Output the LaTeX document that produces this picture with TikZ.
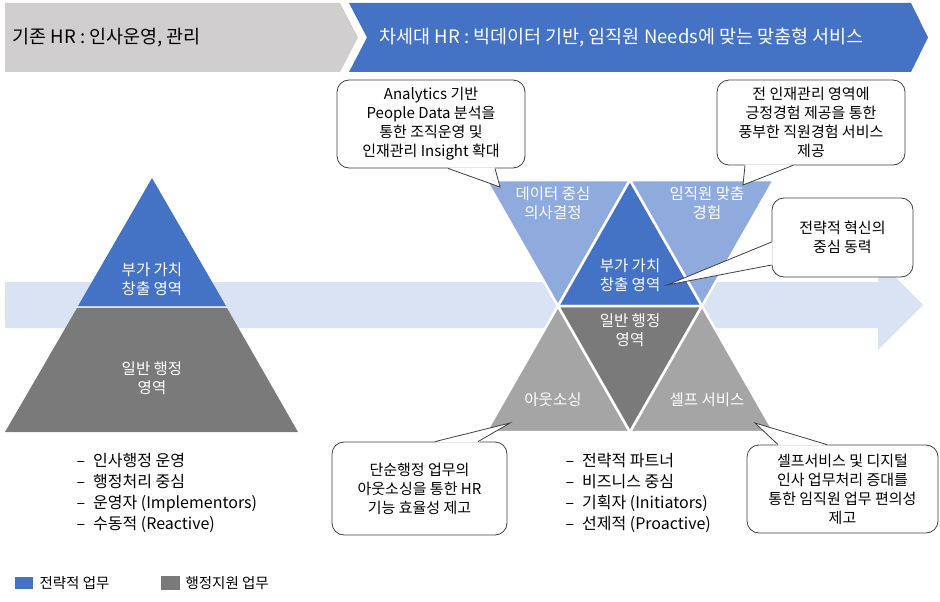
\documentclass[tikz,border=0pt]{standalone}
\usepackage{fontspec}
\setmainfont{Noto Sans CJK KR}
\usetikzlibrary{calc}
\definecolor{hrblue}{HTML}{4472C4}
\definecolor{hrlight}{HTML}{8FAADC}
\definecolor{hrband}{HTML}{DAE3F3}
\definecolor{hrgray}{HTML}{7A7A7A}
\definecolor{hrsoft}{HTML}{A5A5A5}
\definecolor{hrbanner}{HTML}{D0CECE}
\definecolor{hrline}{HTML}{404040}
\tikzset{
  callout/.style={draw=hrline, line width=0.8pt, fill=white, rounded corners=12pt,
    inner sep=0pt, align=center, font=\fontsize{15}{19}\selectfont},
  tail/.style={draw=hrline, line width=0.8pt},
  tri/.style={draw=white, line width=2.5pt, line join=miter},
  trilabel/.style={white, align=center, font=\fontsize{15.5}{19}\selectfont}
}

\begin{document}
\begin{tikzpicture}[x=1pt, y=-1pt, font=\fontsize{13}{18}\selectfont]
  \useasboundingbox (0,0) rectangle (940,602);
  % light arrow behind the triangles
  \fill[hrband] (5,282) -- (878,282) -- (878,260) -- (923,305) -- (878,350)
    -- (878,328) -- (5,328) -- cycle;
  % banner
  \fill[hrbanner] (5,3) -- (340,3) -- (358,37.5) -- (340,72) -- (5,72) -- cycle;
  \fill[hrblue] (349,3) -- (911,3) -- (928,37.5) -- (911,72) -- (349,72)
    -- (367,37.5) -- cycle;
  \node[anchor=west, font=\fontsize{18.5}{22}\selectfont] (oldhr) at (9,37.5)
    {기존 HR : 인사운영, 관리};
  \node[anchor=west, white, font=\fontsize{18.5}{22}\selectfont] (newhr) at (376,37.5)
    {차세대 HR : 빅데이터 기반, 임직원 Needs에 맞는 맞춤형 서비스};
  % left pyramid
  \fill[hrblue] (152,178) -- (226,306) -- (78,306) -- cycle;
  \fill[hrgray] (77,308) -- (227,308) -- (298,432) -- (5,432) -- cycle;
  \node[trilabel] (oldtop) at (152,279) {부가 가치\\창출 영역};
  \node[trilabel] (oldbase) at (152,378) {일반 행정\\영역};
  % right hourglass
  \filldraw[tri, fill=hrlight] (486,180) -- (630,180) -- (558,306) -- cycle;
  \filldraw[tri, fill=hrblue] (630,180) -- (702,306) -- (558,306) -- cycle;
  \filldraw[tri, fill=hrlight] (630,180) -- (774,180) -- (702,306) -- cycle;
  \filldraw[tri, fill=hrsoft] (558,306) -- (630,432) -- (486,432) -- cycle;
  \filldraw[tri, fill=hrgray] (558,306) -- (702,306) -- (630,432) -- cycle;
  \filldraw[tri, fill=hrsoft] (702,306) -- (774,432) -- (630,432) -- cycle;
  \node[trilabel] (data) at (553,203) {데이터 중심\\의사결정};
  \node[trilabel] (fit) at (707,203) {임직원 맞춤\\경험};
  \node[trilabel] (newtop) at (630,275) {부가 가치\\창출 영역};
  \node[trilabel] (newbase) at (630,330) {일반 행정\\영역};
  \node[trilabel] (out) at (553,400) {아웃소싱};
  \node[trilabel] (self) at (707,400) {셀프 서비스};
  % callouts
  \node[callout, minimum width=188pt, minimum height=88pt] (anal) at (431,124)
    {Analytics 기반\\People Data 분석을\\통한 조직운영 및\\인재관리 Insight 확대};
  \coordinate (analTip) at (500,187);
  \fill[white] ([xshift=17pt,yshift=1pt]anal.south) -- (analTip)
    -- ([xshift=64pt,yshift=1pt]anal.south) -- cycle;
  \draw[tail] ([xshift=17pt]anal.south) -- (analTip) -- ([xshift=64pt]anal.south);

  \node[callout, minimum width=188pt, minimum height=85pt] (exp) at (811,122.5)
    {전 인재관리 영역에\\긍정경험 제공을 통한\\풍부한 직원경험 서비스\\제공};
  \coordinate (expTip) at (743,185);
  \fill[white] ([xshift=-66pt,yshift=1pt]exp.south) -- (expTip)
    -- ([xshift=-18pt,yshift=1pt]exp.south) -- cycle;
  \draw[tail] ([xshift=-66pt]exp.south) -- (expTip) -- ([xshift=-18pt]exp.south);

  \node[callout, minimum width=141pt, minimum height=79pt] (core) at (842.5,237.5)
    {전략적 혁신의\\중심 동력};
  \coordinate (coreTip) at (667,285);
  \fill[white] ([xshift=1pt,yshift=-4.5pt]core.west) -- (coreTip)
    -- ([xshift=1pt,yshift=-27.5pt]core.west) -- cycle;
  \draw[tail] ([yshift=-4.5pt]core.west) -- (coreTip) -- ([yshift=-27.5pt]core.west);

  \node[callout, minimum width=175pt, minimum height=93pt] (simp) at (419.5,488.5)
    {단순행정 업무의\\아웃소싱을 통한 HR\\기능 효율성 제고};
  \coordinate (simpTip) at (510,423);
  \fill[white] ([xshift=15.5pt,yshift=-1pt]simp.north) -- (simpTip)
    -- ([xshift=58.5pt,yshift=-1pt]simp.north) -- cycle;
  \draw[tail] ([xshift=15.5pt]simp.north) -- (simpTip) -- ([xshift=58.5pt]simp.north);

  \node[callout, minimum width=191pt, minimum height=88pt] (digi) at (842.5,489)
    {셀프서비스 및 디지털\\인사 업무처리 증대를\\통한 임직원 업무 편의성\\제고};
  \coordinate (digiTip) at (755,423);
  \fill[white] ([xshift=-64.5pt,yshift=-1pt]digi.north) -- (digiTip)
    -- ([xshift=-15.5pt,yshift=-1pt]digi.north) -- cycle;
  \draw[tail] ([xshift=-64.5pt]digi.north) -- (digiTip) -- ([xshift=-15.5pt]digi.north);
  % role lists
  \node[anchor=west, align=left, font=\fontsize{16}{21}\selectfont] (oldroles) at (73,493)
    {–\hspace{8pt}인사행정 운영\\–\hspace{8pt}행정처리 중심\\–\hspace{8pt}운영자 (Implementors)\\–\hspace{8pt}수동적 (Reactive)};
  \node[anchor=west, align=left, font=\fontsize{16}{21}\selectfont] (newroles) at (562,493)
    {–\hspace{8pt}전략적 파트너\\–\hspace{8pt}비즈니스 중심\\–\hspace{8pt}기획자 (Initiators)\\–\hspace{8pt}선제적 (Proactive)};
  % legend
  \fill[hrblue] (15,577) rectangle (33,589);
  \node[anchor=west, font=\fontsize{14.5}{16}\selectfont] (legblue) at (36,583) {전략적 업무};
  \fill[hrgray] (161,576) rectangle (180,590);
  \node[anchor=west, font=\fontsize{14.5}{16}\selectfont] (leggray) at (182,583) {행정지원 업무};
\end{tikzpicture}
\end{document}
